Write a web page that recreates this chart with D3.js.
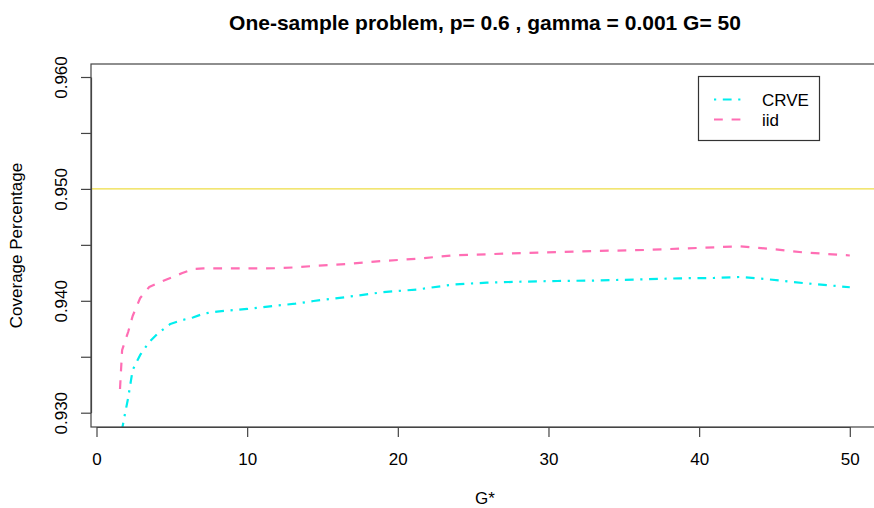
<!DOCTYPE html>
<html>
<head>
<meta charset="utf-8">
<script src="https://cdnjs.cloudflare.com/ajax/libs/d3/7.8.5/d3.min.js"></script>
<style>
  html, body { margin: 0; padding: 0; background: #ffffff; }
  svg { display: block; }
  text { font-family: "Liberation Sans", Arial, sans-serif; fill: #000; }
</style>
</head>
<body>
<svg id="chart" width="874" height="508"></svg>
<script>
// ---- data ----
const gStar = [1.56, 1.7, 1.9, 2.1, 2.4, 2.9, 3.5, 4.1, 4.9, 5.7, 6.4, 7.1, 8, 10, 12, 13.2, 14.4, 16.6, 19, 21.3, 23.7, 25.9, 28.2, 30.6, 33, 36.4, 38.7, 41, 42.7, 44.6, 46.9, 50];
const crve = [0.92756, 0.92854, 0.92997, 0.93131, 0.93382, 0.93516, 0.93632, 0.93712, 0.93793, 0.93828, 0.93851, 0.93885, 0.93904, 0.93927, 0.93958, 0.93974, 0.93998, 0.94034, 0.94077, 0.94101, 0.94146, 0.94162, 0.94171, 0.94177, 0.94181, 0.94192, 0.94201, 0.94204, 0.94213, 0.94192, 0.94159, 0.94121];
const iid  = [0.93212, 0.93560, 0.93641, 0.93721, 0.93864, 0.94025, 0.94123, 0.94159, 0.94204, 0.94248, 0.94284, 0.94289, 0.94289, 0.94289, 0.94291, 0.94299, 0.94311, 0.94329, 0.94356, 0.94376, 0.94407, 0.94416, 0.94427, 0.94436, 0.94445, 0.94454, 0.94466, 0.94478, 0.94487, 0.94466, 0.94433, 0.94405];
const referenceLevel = 0.95;
const xTicks = [0, 10, 20, 30, 40, 50];
const yTicks = [0.930, 0.935, 0.940, 0.945, 0.950, 0.955, 0.960];
const yTickLabels = ["0.930", "", "0.940", "", "0.950", "", "0.960"];
const seriesNames = ["CRVE", "iid"];
const titleText = "One-sample problem, p= 0.6 , gamma = 0.001 G= 50";
const xLabel = "G*";
const yLabel = "Coverage Percentage";

// ---- layout ----
const plot = { left: 91, right: 879, top: 64, bottom: 427 };
const x = d3.scaleLinear().domain([0, 50]).range([96.5, 849.8]);
const y = d3.scaleLinear().domain([0.93, 0.96]).range([412.7, 77]);

const svg = d3.select("#chart");

svg.append("defs").append("clipPath").attr("id", "plotclip")
  .append("rect")
  .attr("x", plot.left).attr("y", plot.top)
  .attr("width", plot.right - plot.left).attr("height", plot.bottom - plot.top);

// reference line at 0.95
svg.append("line")
  .attr("x1", plot.left).attr("x2", plot.right)
  .attr("y1", y(referenceLevel)).attr("y2", y(referenceLevel))
  .attr("stroke", "#EEDD44").attr("stroke-width", 1.3);

const styles = [
  { color: "#00EEEE", dash: "2.2,6.6,8.8,6.6" },
  { color: "#FF6EB4", dash: "8.8,8.8" }
];
const seriesData = [crve, iid];

const line = d3.line().x((d, i) => x(gStar[i])).y(d => y(d));

const g = svg.append("g").attr("clip-path", "url(#plotclip)");
seriesData.forEach((vals, k) => {
  g.append("path")
    .attr("d", line(vals))
    .attr("fill", "none")
    .attr("stroke", styles[k].color)
    .attr("stroke-width", 2.2)
    .attr("stroke-dasharray", styles[k].dash)
    .attr("stroke-linejoin", "round");
});

// box
svg.append("rect")
  .attr("x", plot.left).attr("y", plot.top)
  .attr("width", plot.right - plot.left).attr("height", plot.bottom - plot.top)
  .attr("fill", "none").attr("stroke", "#444").attr("stroke-width", 1.2);

// x axis
const xAxis = svg.append("g")
  .attr("transform", `translate(0,${plot.bottom})`)
  .call(d3.axisBottom(x).tickValues(xTicks).tickSize(10).tickSizeOuter(0).tickFormat(d3.format("d")));
xAxis.select(".domain").attr("stroke", "#444").attr("stroke-width", 1.2);
xAxis.selectAll(".tick line").attr("stroke", "#444").attr("stroke-width", 1.2);
xAxis.selectAll(".tick text")
  .attr("y", 38).attr("dy", 0)
  .style("font-size", "17px").style("font-family", '"Liberation Sans", Arial, sans-serif')
  .attr("fill", "#000");

// y axis
const yAxis = svg.append("g")
  .attr("transform", `translate(${plot.left},0)`)
  .call(d3.axisLeft(y).tickValues(yTicks).tickSize(10).tickSizeOuter(0)
    .tickFormat((d, i) => yTickLabels[i]));
yAxis.select(".domain").attr("stroke", "#444").attr("stroke-width", 1.2);
yAxis.selectAll(".tick line").attr("stroke", "#444").attr("stroke-width", 1.2);
yAxis.selectAll(".tick text")
  .attr("x", null).attr("dy", null)
  .attr("text-anchor", "middle")
  .attr("transform", "translate(-24,0) rotate(-90)")
  .style("font-size", "17px").style("font-family", '"Liberation Sans", Arial, sans-serif')
  .attr("fill", "#000");

// title
svg.append("text")
  .attr("x", (plot.left + plot.right) / 2).attr("y", 30)
  .attr("text-anchor", "middle")
  .style("font-size", "21px").style("font-weight", "bold")
  .text(titleText);

// axis labels
svg.append("text")
  .attr("x", (plot.left + plot.right) / 2).attr("y", 504)
  .attr("text-anchor", "middle")
  .style("font-size", "17px")
  .text(xLabel);

svg.append("text")
  .attr("transform", `translate(22,${(plot.top + plot.bottom) / 2}) rotate(-90)`)
  .attr("text-anchor", "middle")
  .style("font-size", "17px")
  .text(yLabel);

// legend
const legend = svg.append("g");
legend.append("rect")
  .attr("x", 698.5).attr("y", 76.5).attr("width", 121).attr("height", 64)
  .attr("fill", "#fff").attr("stroke", "#333").attr("stroke-width", 1.2);
seriesNames.forEach((name, k) => {
  const ly = 99.5 + k * 20;
  legend.append("line")
    .attr("x1", 714).attr("x2", 742).attr("y1", ly).attr("y2", ly)
    .attr("stroke", styles[k].color).attr("stroke-width", 2.2)
    .attr("stroke-dasharray", styles[k].dash);
  legend.append("text")
    .attr("x", 762).attr("y", ly + 6.5)
    .style("font-size", "17px")
    .text(name);
});
</script>
</body>
</html>
